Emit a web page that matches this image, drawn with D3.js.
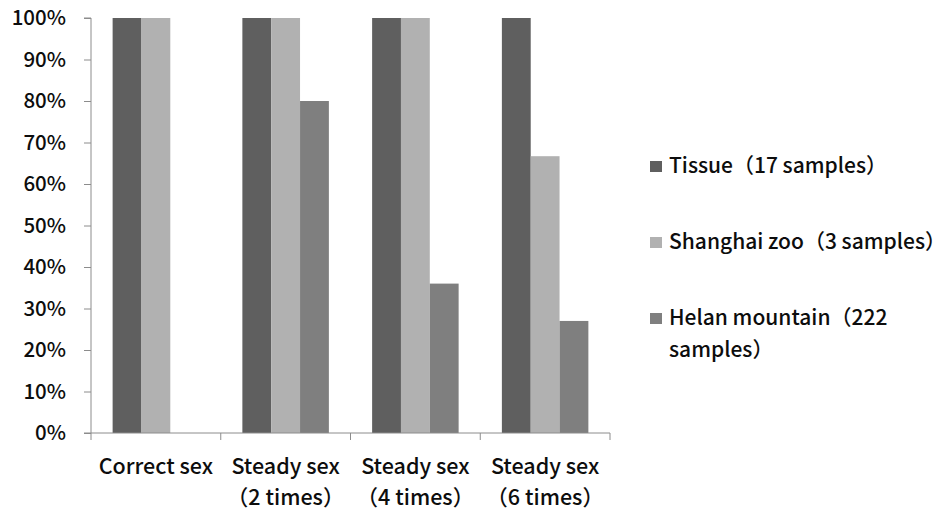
<!DOCTYPE html>
<html><head><meta charset="utf-8">
<script src="https://cdn.jsdelivr.net/npm/d3@7"></script>
<style>html,body{margin:0;padding:0;background:#fff;}svg{display:block;}</style>
</head><body>
<svg id="c" width="945" height="510"></svg>
<script>
const categories = ["Correct sex", "Steady sex（2 times）", "Steady sex（4 times）", "Steady sex（6 times）"];
const categoryLines = [["Correct sex"], ["Steady sex", "（2 times）"], ["Steady sex", "（4 times）"], ["Steady sex", "（6 times）"]];
const seriesNames = ["Tissue（17 samples）", "Shanghai zoo（3 samples）", "Helan mountain（222 samples）"];
const legendLines = [["Tissue（17 samples）"], ["Shanghai zoo（3 samples）"], ["Helan mountain（222", "samples）"]];
const tissue = [1.00, 1.00, 1.00, 1.00];
const shanghai = [1.00, 1.00, 1.00, 0.667];
const helan = [0, 0.80, 0.36, 0.27];
const colors = ["#5f5f5f", "#b1b1b1", "#7f7f7f"];
const yTicks = [0, 0.1, 0.2, 0.3, 0.4, 0.5, 0.6, 0.7, 0.8, 0.9, 1.0];

(function () {
const series = [tissue, shanghai, helan];
const font = "'Noto Sans CJK SC', 'Noto Sans', sans-serif";
const fs = 21.5, fw = 500, tc = "#0d0d0d";
const svg = d3.select("#c");
const mLeft = 91, mRight = 610, mTop = 18, mBottom = 433;

const x = d3.scaleBand().domain(categories).range([mLeft, mRight]).paddingInner(0).paddingOuter(0);
const y = d3.scaleLinear().domain([0, 1]).range([mBottom, mTop]);

// bars
const barW = x.bandwidth() / 4.5;
const g = svg.append("g");
series.forEach((vals, si) => {
  g.selectAll(null).data(vals).enter().append("rect")
    .attr("x", (d, i) => x(categories[i]) + barW * 0.75 + si * barW)
    .attr("y", d => y(d))
    .attr("width", barW)
    .attr("height", d => y(0) - y(d))
    .attr("fill", colors[si]);
});

// y axis
const yAxis = d3.axisLeft(y).tickValues(yTicks).tickFormat(d3.format(".0%")).tickSize(7).tickPadding(18);
const ya = svg.append("g").attr("transform", `translate(${mLeft},0)`).call(yAxis);
ya.select(".domain").attr("stroke", "#8c8c8c").attr("d", `M-7,${mTop}H0V${mBottom}H-7`);
ya.selectAll(".tick line").attr("stroke", "#8c8c8c");
ya.selectAll(".tick text").attr("font-family", font).attr("font-size", 20.5).attr("font-weight", fw).attr("fill", tc).attr("dy", "0.34em");

// x axis
const xAxis = d3.axisBottom(x).tickValues([]).tickSize(0);
const xa = svg.append("g").attr("transform", `translate(0,${mBottom})`).call(xAxis);
xa.select(".domain").attr("stroke", "#8c8c8c").attr("d", `M${mLeft},0H${mRight}`);
const bounds = categories.map(c => x(c)).concat([mRight]);
xa.selectAll(".bt").data(bounds).enter().append("line").attr("class","bt")
  .attr("x1", d => d).attr("x2", d => d).attr("y1", 0).attr("y2", 7).attr("stroke", "#8c8c8c");

categoryLines.forEach((lines, i) => {
  const cx = x(categories[i]) + x.bandwidth() / 2;
  lines.forEach((t, li) => {
    svg.append("text").attr("x", cx).attr("y", 474 + li * 31).attr("text-anchor", "middle")
      .attr("font-family", font).attr("font-size", fs).attr("font-weight", fw).attr("fill", tc).text(t);
  });
});

// legend
const legY = [166, 242, 318];
legendLines.forEach((lines, i) => {
  svg.append("rect").attr("x", 650).attr("y", legY[i] - 5).attr("width", 12).attr("height", 11).attr("fill", colors[i]);
  lines.forEach((t, li) => {
    svg.append("text").attr("x", 669).attr("y", legY[i] + 7 + li * 32)
      .attr("font-family", font).attr("font-size", 21).attr("font-weight", fw).attr("fill", tc).text(t);
  });
});
})();
</script>
</body></html>
